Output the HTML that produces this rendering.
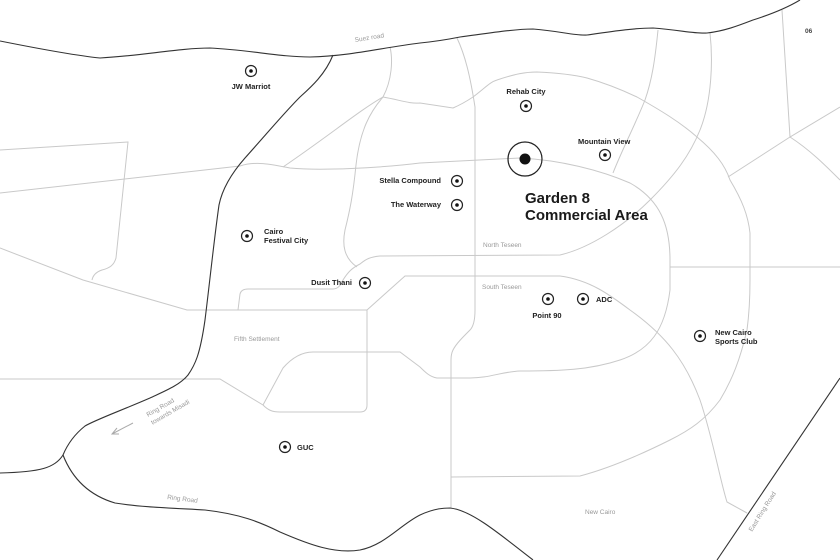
<!DOCTYPE html>
<html><head><meta charset="utf-8"><style>
html,body{margin:0;padding:0;background:#fff}
svg{display:block}
text{font-family:"Liberation Sans",sans-serif}
.l{font-size:7.5px;font-weight:bold;fill:#222}
.g{font-size:6.5px;fill:#999}
</style></head><body>
<svg width="840" height="560" viewBox="0 0 840 560" xmlns="http://www.w3.org/2000/svg">
<g fill="none" stroke="#c9c9c9" stroke-width="1">
<path d="M0,193 L240,166 C255,161 270,164 290,168 C320,171 380,168 420,163 L520,158 C560,160 600,170 630,183 C660,200 670,225 670,260 L670,290 C665,330 650,350 620,360 C590,370 560,371 520,371 C500,372 490,378 470,378 L437,378 C430,377 425,372 420,367 L400,352 L313,352 C300,352 290,360 283,368 L263,405"/>
<path d="M0,379 L220,379 L263,405 C268,410 272,412 280,412 L360,412 C364,412 367,410 367,405 L367,310"/>
<path d="M0,248 L83,280 L187,310 L367,310 L405,276 L560,276 C590,280 610,295 630,310 C665,335 685,360 700,400 C712,435 720,480 727,502 L747,513"/>
<path d="M238,310 L240,294 C241,290 244,289 248,289 L333,289 C338,289 341,285 343,280 C348,272 352,268 360,264 C366,259 370,257 380,256 L560,255 C590,248 625,225 650,200 C675,175 690,155 700,130 C712,100 713,60 710,33"/>
<path d="M390,47 C393,60 392,80 383,97 C370,112 360,130 356,165 C353,195 350,210 345,230 C342,245 344,258 357,267"/>
<path d="M383,97 C360,110 330,135 283,167"/>
<path d="M383,97 C400,100 410,104 420,103 L453,108 C460,105 467,101 473,97 C485,88 490,82 497,80 C515,74 525,72 537,72 C560,73 575,75 587,78 C605,83 620,89 637,97 C660,110 680,122 697,137 C715,152 725,165 730,180 C742,200 748,215 750,233 L750,280 C750,300 749,315 747,330 C740,360 732,380 720,400 C705,420 690,430 670,440 C640,455 610,468 580,476 L451,477"/>
<path d="M457,38 C465,55 470,75 475,107 L475,310 C475,320 473,327 470,330 C462,338 456,344 453,350 C451,354 451,357 451,360 L451,508"/>
<path d="M658,30 C655,60 652,80 645,100 C635,125 622,150 613,173"/>
<path d="M782,10 L790,137 L840,107 M790,137 L728,177 M790,137 C810,150 825,165 840,180 M670,267 L840,267"/>
<path d="M0,150 L128,142 L116,258 C114,265 110,268 102,270 C96,272 93,275 92,280"/>
</g>
<g fill="none" stroke="#333" stroke-width="1.1">
<path d="M0,41 C40,49 80,56 100,58 C140,56 180,48 210,48 C250,50 280,57 310,57 C350,56 380,48 420,43 C440,41 450,39 460,37 C490,33 515,29 533,29 C560,31 575,36 587,35 C615,31 635,28 653,28 C680,30 695,34 707,33 C725,31 740,25 753,20 C775,13 790,6 800,0"/>
<path d="M333,55 C325,75 310,88 300,97 C285,112 270,130 245,158 C230,175 222,190 219,205 C214,240 210,280 205,320 C200,355 195,365 188,375 C180,385 165,391 150,398 C120,411 95,420 85,426 C75,434 68,443 63,455 C55,468 40,472 0,473"/>
<path d="M63,455 C72,478 88,495 115,503 C140,507 170,508 205,510 C240,514 260,522 280,532 C310,545 335,554 360,550 C385,545 400,525 420,515 C435,508 445,508 450,508 C470,510 495,530 533,560"/>
<path d="M717,560 L840,378"/>
</g>
<g stroke="#aaa" stroke-width="1" fill="none"><path d="M133,423 L112,434 M117,428 L112,434 L119,434"/></g>
<g fill="none" stroke="#222" stroke-width="1.2">
<circle cx="251" cy="71" r="5.5"/><circle cx="526" cy="106" r="5.5"/><circle cx="605" cy="155" r="5.5"/>
<circle cx="457" cy="181" r="5.5"/><circle cx="457" cy="205" r="5.5"/><circle cx="247" cy="236" r="5.5"/>
<circle cx="365" cy="283" r="5.5"/><circle cx="548" cy="299" r="5.5"/><circle cx="583" cy="299" r="5.5"/>
<circle cx="700" cy="336" r="5.5"/><circle cx="285" cy="447" r="5.5"/><circle cx="525" cy="159" r="17"/>
</g>
<g fill="#111">
<circle cx="251" cy="71" r="1.8"/><circle cx="526" cy="106" r="1.8"/><circle cx="605" cy="155" r="1.8"/>
<circle cx="457" cy="181" r="1.8"/><circle cx="457" cy="205" r="1.8"/><circle cx="247" cy="236" r="1.8"/>
<circle cx="365" cy="283" r="1.8"/><circle cx="548" cy="299" r="1.8"/><circle cx="583" cy="299" r="1.8"/>
<circle cx="700" cy="336" r="1.8"/><circle cx="285" cy="447" r="1.8"/><circle cx="525" cy="159" r="5.5"/>
</g>
<text class="l" x="251" y="89" text-anchor="middle">JW Marriot</text>
<text class="l" x="526" y="94" text-anchor="middle">Rehab City</text>
<text class="l" x="578" y="144">Mountain View</text>
<text class="l" x="441" y="183" text-anchor="end">Stella Compound</text>
<text class="l" x="441" y="207" text-anchor="end">The Waterway</text>
<text class="l" x="264" y="234">Cairo</text>
<text class="l" x="264" y="243">Festival City</text>
<text class="l" x="352" y="285" text-anchor="end">Dusit Thani</text>
<text class="l" x="547" y="318" text-anchor="middle">Point 90</text>
<text class="l" x="596" y="302">ADC</text>
<text class="l" x="715" y="335">New Cairo</text>
<text class="l" x="715" y="344">Sports Club</text>
<text class="l" x="297" y="450">GUC</text>
<text x="525" y="203" style="font-size:15px;font-weight:bold;fill:#1a1a1a">Garden 8</text>
<text x="525" y="220" style="font-size:15px;font-weight:bold;fill:#1a1a1a">Commercial Area</text>
<text class="g" x="355" y="42" transform="rotate(-9 355 42)">Suez road</text>
<text x="805" y="33" style="font-size:6.5px;font-weight:bold;fill:#444">06</text>
<text class="g" x="483" y="247">North Teseen</text>
<text class="g" x="482" y="289">South Teseen</text>
<text class="g" x="234" y="341">Fifth Settlement</text>
<text class="g" x="148" y="417" transform="rotate(-30 148 417)">Ring Road</text>
<text class="g" x="148" y="426" transform="rotate(-30 148 417)">towards Misadi</text>
<text class="g" x="167" y="499" transform="rotate(7 167 499)">Ring Road</text>
<text class="g" x="585" y="514">New Cairo</text>
<text class="g" x="752" y="532" transform="rotate(-58 752 532)">East Ring Road</text>
</svg>
</body></html>
